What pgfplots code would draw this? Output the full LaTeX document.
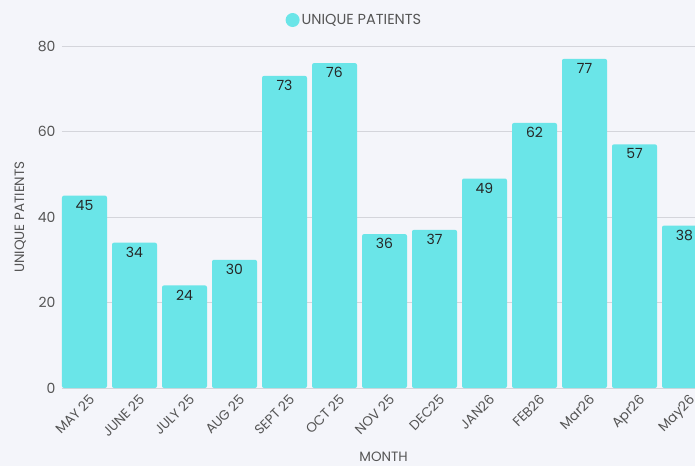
\documentclass[border=0pt]{standalone}
\usepackage{fontspec}
\setmainfont{Poppins}
\usepackage{pgfplots}
\pgfplotsset{compat=1.18}
\definecolor{bg}{HTML}{F4F5FA}
\definecolor{barc}{HTML}{6AE5E8}
\definecolor{txt}{HTML}{555555}
\definecolor{gridc}{HTML}{D4D5DB}
\begin{document}
\begin{tikzpicture}[x=1pt,y=1pt]
\fill[bg] (0,0) rectangle (695,466);
\path[use as bounding box] (0,0) rectangle (695,466);
\begin{axis}[
  at={(62pt,78pt)}, anchor=south west,
  scale only axis, width=633pt, height=342pt,
  xmin=-0.45, xmax=12.21, ymin=0, ymax=80,
  ytick={0,20,40,60,80},
  xtick={0,...,12},
  xticklabels={MAY 25, JUNE 25, JULY 25, AUG 25, SEPT 25, OCT 25, NOV 25, DEC25, JAN26, FEB26, Mar26, Apr26, May26},
  /pgf/number format/assume math mode=true,
  axis line style={draw=none},
  major tick length=0pt,
  ymajorgrids, grid style={gridc, line width=1pt},
  tick label style={font=\fontsize{14}{16}\selectfont, text=txt},
  yticklabel style={xshift=-3pt},
  xticklabel style={rotate=45, anchor=north east, xshift=-0.5pt, yshift=-6pt, inner sep=0.5pt, font=\fontsize{13.5}{15}\selectfont},
  xlabel={MONTH}, ylabel={UNIQUE PATIENTS},
  label style={font=\fontsize{13.5}{15}\selectfont, text=txt},
  xlabel style={at={(axis description cs:0.508,-0.2)}, anchor=center},
  ylabel style={at={(axis description cs:-0.066,0.5)}, anchor=center},
  legend style={at={(axis description cs:0.462,1.076)}, anchor=center, draw=none, fill=none, font=\fontsize{14.5}{16}\selectfont, text=txt},
  ybar, bar width=0.9,
  nodes near coords,
  every node near coord/.append style={anchor=north, yshift=-1pt, font=\fontsize{14}{16}\selectfont, text=black!85},
]
\addplot[fill=barc, draw=none, rounded corners=2pt,
  legend image code/.code={\fill[barc] (-1pt,0pt) circle (7pt);}]
  coordinates {(0,45) (1,34) (2,24) (3,30) (4,73) (5,76) (6,36) (7,37) (8,49) (9,62) (10,77) (11,57) (12,38)};
\addlegendentry{UNIQUE PATIENTS}
\end{axis}
\end{tikzpicture}
\end{document}
